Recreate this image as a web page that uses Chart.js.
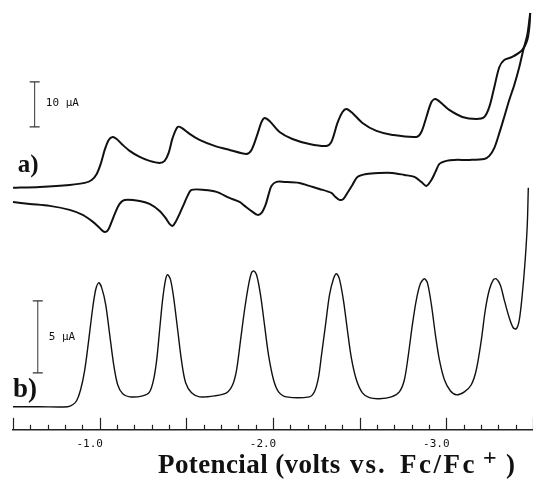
<!DOCTYPE html>
<html>
<head>
<meta charset="utf-8">
<script src="https://cdn.jsdelivr.net/npm/chart.js@4.4.0/dist/chart.umd.min.js"></script>
<style>
  html, body { margin: 0; padding: 0; background: #fff; }
  #wrap { width: 533px; height: 482px; }
</style>
</head>
<body>
<div id="wrap"><canvas id="chart_voltammetry"></canvas></div>
<script>
// a) cyclic voltammogram - forward (cathodic) scan, potential in V vs Fc/Fc+, current in uA
const cvForwardV = [-0.493, -0.654, -0.827, -0.914, -0.954, -0.983, -1.006, -1.029, -1.052, -1.075,
  -1.098, -1.127, -1.173, -1.231, -1.288, -1.346, -1.375, -1.398, -1.421, -1.450,
  -1.473, -1.519, -1.576, -1.663, -1.749, -1.847, -1.876, -1.905, -1.934, -1.951,
  -1.980, -2.038, -2.112, -2.210, -2.308, -2.337, -2.372, -2.401, -2.424, -2.458,
  -2.516, -2.597, -2.689, -2.827, -2.856, -2.885, -2.914, -2.937, -2.971, -3.017,
  -3.092, -3.173, -3.219, -3.248, -3.277, -3.306, -3.334, -3.380, -3.438, -3.467,
  -3.479, -3.484];
const cvForwardI = [1.56, 1.78, 2.22, 2.67, 3.33, 4.67, 6.89, 10.0, 12.22, 12.89,
  12.44, 11.33, 9.78, 8.44, 7.56, 7.11, 7.56, 9.33, 12.67, 15.11,
  14.89, 13.56, 12.22, 10.89, 10.0, 9.11, 10.0, 12.89, 16.22, 17.11,
  16.44, 14.0, 12.44, 11.33, 10.89, 11.78, 16.0, 18.44, 19.11, 18.22,
  16.0, 14.22, 13.33, 12.89, 14.0, 17.33, 20.67, 21.33, 20.44, 18.89,
  17.33, 16.89, 17.33, 19.56, 24.0, 28.44, 30.0, 30.67, 32.22, 34.44,
  37.33, 40.44];

// a) reverse (anodic) scan
const cvReverseV = [-3.484, -3.467, -3.444, -3.421, -3.392, -3.363, -3.334, -3.306, -3.277, -3.248,
  -3.219, -3.133, -3.046, -3.000, -2.960, -2.937, -2.914, -2.885, -2.856, -2.816,
  -2.758, -2.689, -2.614, -2.539, -2.487, -2.458, -2.429, -2.406, -2.383, -2.360,
  -2.337, -2.268, -2.210, -2.153, -2.066, -2.020, -1.991, -1.974, -1.957, -1.934,
  -1.911, -1.882, -1.836, -1.807, -1.749, -1.674, -1.605, -1.530, -1.507, -1.484,
  -1.461, -1.438, -1.421, -1.403, -1.380, -1.346, -1.288, -1.231, -1.144, -1.115,
  -1.092, -1.069, -1.052, -1.035, -1.017, -0.988, -0.954, -0.902, -0.827, -0.712,
  -0.597, -0.493];
const cvReverseI = [40.44, 35.56, 32.22, 28.44, 24.44, 21.11, 17.33, 13.78, 10.44, 8.67,
  8.0, 7.78, 7.78, 7.56, 6.89, 5.11, 3.33, 2.0, 2.89, 4.0,
  4.44, 4.89, 4.89, 4.67, 4.0, 2.22, 0.44, -0.89, -1.11, -0.44,
  0.44, 1.33, 2.0, 2.67, 2.89, 2.89, 2.0, 0.0, -2.22, -4.0,
  -4.44, -3.78, -2.44, -1.56, -0.67, 0.67, 1.11, 1.11, -0.22, -2.22,
  -4.22, -6.0, -6.89, -6.44, -5.11, -3.56, -2.0, -1.33, -1.11, -2.0,
  -3.78, -6.0, -7.56, -8.22, -8.0, -6.89, -5.78, -4.44, -3.33, -2.44,
  -2.0, -1.56];

// b) differential pulse voltammogram
const dpvV = [-0.493, -0.654, -0.816, -0.844, -0.867, -0.890, -0.914, -0.937, -0.960, -0.977,
  -0.994, -1.012, -1.035, -1.058, -1.081, -1.104, -1.133, -1.173, -1.248, -1.288,
  -1.311, -1.329, -1.346, -1.363, -1.380, -1.392, -1.409, -1.427, -1.450, -1.473,
  -1.496, -1.530, -1.576, -1.663, -1.732, -1.767, -1.790, -1.813, -1.836, -1.859,
  -1.876, -1.888, -1.905, -1.928, -1.951, -1.974, -2.003, -2.032, -2.078, -2.210,
  -2.239, -2.262, -2.280, -2.303, -2.326, -2.349, -2.366, -2.383, -2.406, -2.429,
  -2.452, -2.481, -2.516, -2.556, -2.614, -2.683, -2.729, -2.758, -2.781, -2.804,
  -2.827, -2.850, -2.873, -2.891, -2.914, -2.937, -2.960, -2.989, -3.023, -3.058,
  -3.104, -3.144, -3.173, -3.202, -3.225, -3.248, -3.271, -3.288, -3.311, -3.334,
  -3.363, -3.386, -3.404, -3.421, -3.438, -3.455, -3.467, -3.473];
const dpvI = [0, 0, 0, 0.14, 0.42, 1.18, 2.57, 4.65, 6.88, 8.13,
  8.61, 8.26, 7.08, 5.0, 2.92, 1.53, 0.90, 0.69, 0.76, 1.04,
  1.88, 3.26, 5.35, 7.43, 8.82, 9.17, 8.82, 7.57, 5.35, 3.13,
  1.67, 0.97, 0.69, 0.76, 0.97, 1.53, 2.57, 4.65, 6.74, 8.47,
  9.31, 9.44, 9.17, 7.78, 5.69, 3.61, 1.88, 1.04, 0.69, 0.69,
  1.04, 2.01, 3.61, 5.69, 7.78, 8.89, 9.24, 8.89, 7.43, 5.35,
  3.40, 1.88, 0.97, 0.63, 0.56, 0.69, 1.04, 1.88, 3.61, 5.69,
  7.43, 8.54, 8.89, 8.61, 7.08, 5.0, 3.26, 1.88, 1.11, 0.83,
  1.04, 1.53, 2.57, 4.65, 6.74, 8.13, 8.82, 8.89, 8.47, 7.43,
  6.18, 5.49, 5.42, 6.04, 7.78, 10.21, 12.64, 15.21];

// tick labels every 1.0 V
const xTickLabels = ["-1.0", "-2.0", "-3.0"];

// current scale bars: [potential, lower end, upper end]
const scaleBarA = [-0.625, 15.11, 25.11]; // 10 uA
const scaleBarB = [-0.643, 2.36, 7.36]; // 5 uA

function toPoints(xs, ys) {
  return xs.map((v, i) => ({ x: v, y: ys[i] }));
}

// text put on the plot, placed with the scales (potential, current, axis)
const plotTexts = [
  { text: "a)", x: -0.527, y: 6.44, axis: "ya", font: "bold 25px 'Liberation Serif', serif" },
  { text: "b)", x: -0.50, y: 1.18, axis: "yb", font: "bold 27px 'Liberation Serif', serif" },
  { text: "10 \u00b5A", x: -0.689, y: 20.44, axis: "ya", font: "11px 'DejaVu Sans Mono', monospace" },
  { text: "5 \u00b5A", x: -0.706, y: 4.86, axis: "yb", font: "11px 'DejaVu Sans Mono', monospace" },
];

// axis title pieces: text, left x (px), baseline lift, font, letter spacing
const titleParts = [
  ["Potencial (volts", 158, 0, "bold 27px 'Liberation Serif', serif", "0.4px"],
  ["vs.", 350, 0, "bold 27px 'Liberation Serif', serif", "2px"],
  ["Fc/Fc", 400, 0, "bold 27px 'Liberation Serif', serif", "2.5px"],
  ["+", 483, 8, "bold 24px 'Liberation Serif', serif", "0px"],
  [")", 506, 0, "bold 27px 'Liberation Serif', serif", "0px"],
];

const axisDecor = {
  id: "axisDecor",
  afterDraw(chart) {
    const ctx = chart.ctx;
    const xs = chart.scales.x;
    const yBase = chart.chartArea.bottom;
    ctx.save();
    // ticks pointing up from the potential axis
    ctx.strokeStyle = "#222";
    ctx.lineWidth = 1.2;
    xs.ticks.forEach((t) => {
      const px = Math.round(xs.getPixelForValue(t.value)) + 0.5;
      const major = Math.round(t.value * 10) % 5 == 0;
      ctx.beginPath();
      ctx.moveTo(px, yBase);
      ctx.lineTo(px, yBase - (major ? 12 : 5));
      ctx.stroke();
    });
    // labels
    ctx.fillStyle = "#111";
    ctx.textBaseline = "middle";
    ctx.textAlign = "left";
    plotTexts.forEach((p) => {
      ctx.font = p.font;
      ctx.fillText(p.text, xs.getPixelForValue(p.x), chart.scales[p.axis].getPixelForValue(p.y));
    });
    // axis title with superscript +
    ctx.textBaseline = "alphabetic";
    const base = chart.height - 9;
    titleParts.forEach((p) => {
      ctx.font = p[3];
      if ("letterSpacing" in ctx) ctx.letterSpacing = p[4];
      ctx.fillText(p[0], p[1], base - p[2]);
    });
    if ("letterSpacing" in ctx) ctx.letterSpacing = "0px";
    ctx.restore();
  },
};

const ctxV = document.getElementById("chart_voltammetry").getContext("2d");

const curveStyle = {
  showLine: true,
  fill: false,
  borderColor: "#111",
  pointRadius: 0,
  tension: 0.3,
};

const myChartV = new Chart(ctxV, {
  type: "scatter",
  data: {
    datasets: [
      Object.assign({ label: "CV forward", yAxisID: "ya", borderWidth: 2, data: toPoints(cvForwardV, cvForwardI) }, curveStyle),
      Object.assign({ label: "CV reverse", yAxisID: "ya", borderWidth: 2, data: toPoints(cvReverseV, cvReverseI) }, curveStyle),
      Object.assign({ label: "DPV", yAxisID: "yb", borderWidth: 1.4, data: toPoints(dpvV, dpvI) }, curveStyle),
      {
        label: "10 uA",
        yAxisID: "ya",
        showLine: true,
        borderColor: "#333",
        borderWidth: 1,
        pointStyle: "line",
        pointRadius: 5,
        pointBorderWidth: 1.2,
        pointBorderColor: "#333",
        data: [{ x: scaleBarA[0], y: scaleBarA[1] }, { x: scaleBarA[0], y: scaleBarA[2] }],
      },
      {
        label: "5 uA",
        yAxisID: "yb",
        showLine: true,
        borderColor: "#333",
        borderWidth: 1,
        pointStyle: "line",
        pointRadius: 5,
        pointBorderWidth: 1.2,
        pointBorderColor: "#333",
        data: [{ x: scaleBarB[0], y: scaleBarB[1] }, { x: scaleBarB[0], y: scaleBarB[2] }],
      },
    ],
  },
  options: {
    animation: false,
    responsive: true,
    maintainAspectRatio: false,
    layout: {
      autoPadding: false,
      padding: { left: 13, right: 0, top: 0, bottom: 31 },
    },
    plugins: {
      legend: { display: false },
      tooltip: { enabled: false },
    },
    scales: {
      x: {
        type: "linear",
        reverse: true,
        min: -3.5,
        max: -0.5,
        grid: { display: false, drawTicks: true, tickLength: 8 },
        border: { display: true, color: "#222", width: 1.5 },
        ticks: {
          stepSize: 0.1,
          autoSkip: false,
          maxRotation: 0,
          padding: 0,
          labelOffset: -10,
          color: "#111",
          font: { family: "'DejaVu Sans Mono', monospace", size: 11 },
          callback: function (value) {
            const k = Math.round(value * 10);
            if (k % 10 == 0 && k <= -10 && k >= -30) {
              return xTickLabels[-k / 10 - 1];
            }
            return "";
          },
        },
      },
      ya: { display: false, min: -52.22, max: 43.33 },
      yb: { display: false, min: -1.6, max: 28.26 },
    },
  },
  plugins: [axisDecor],
});
</script>
</body>
</html>
